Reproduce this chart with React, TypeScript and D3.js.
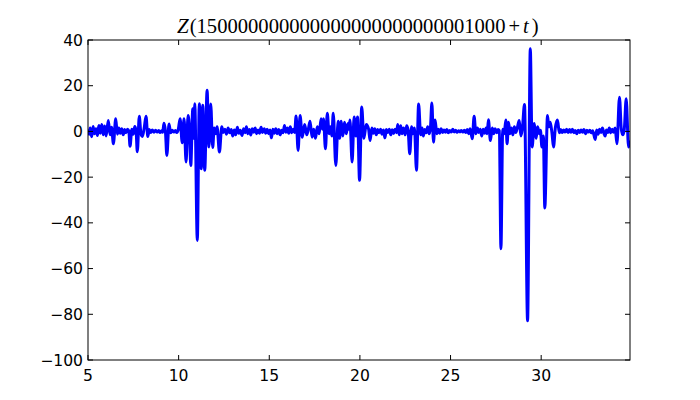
import React from 'react';
import * as d3 from 'd3';

// chart values
const titleNumber = '150000000000000000000000001000';
const xTicks = [5, 10, 15, 20, 25, 30];
const yTicks = [-100, -80, -60, -40, -20, 0, 20, 40];
const xDomain = [5, 34.9];
const yDomain = [-100, 40];

// [t, Z(t)] at the local extremes of the curve
const zSeries: [number, number][] = [
  [5.0, 0.8], [5.06, -1.2], [5.12, 1.5], [5.2, -2.3], [5.28, 2.2], [5.36, -1.0], [5.44, 1.2], [5.52, -1.8],
  [5.6, 2.6], [5.68, -0.8], [5.76, 3.0], [5.84, -1.5], [5.92, 2.4], [6.0, -2.0], [6.12, 4.8], [6.22, -1.5],
  [6.3, 1.8], [6.4, -5.4], [6.53, 5.5], [6.62, -1.2], [6.7, 1.5], [6.78, -0.8], [6.86, 1.2], [6.94, -1.5],
  [7.02, 0.8], [7.1, -0.6], [7.18, 1.0], [7.25, 0.3], [7.32, -6.5], [7.42, 1.0], [7.5, -1.2], [7.58, 2.2],
  [7.65, 0.5], [7.72, -8.9], [7.83, 6.6], [7.92, -1.0], [8.0, -2.2], [8.1, 1.5], [8.2, 6.6], [8.3, -2.2],
  [8.38, 0.8], [8.46, -0.5], [8.55, 0.6], [8.64, -0.4], [8.73, 0.5], [8.82, -0.3], [8.9, 0.4], [8.98, -0.5],
  [9.06, 0.3], [9.12, -0.4], [9.19, 3.6], [9.27, 0.2], [9.35, -10.5], [9.47, 3.3], [9.56, -0.6], [9.65, 0.5],
  [9.74, -0.3], [9.82, 0.4], [9.9, -0.5], [9.98, 0.8], [10.08, 5.5], [10.2, -5.0], [10.3, 5.5], [10.41, -13.4],
  [10.52, 7.0], [10.6, 0.5], [10.67, -14.9], [10.78, 9.9], [10.84, -3.0], [10.89, 12.1], [11.03, -47.7],
  [11.14, 12.1], [11.25, -16.3], [11.33, 11.4], [11.44, -17.0], [11.57, 18.0], [11.67, -6.8], [11.77, 12.0],
  [11.88, -7.0], [11.96, 1.5], [12.04, -1.0], [12.12, 2.0], [12.25, -9.0], [12.38, 2.0], [12.46, -0.5],
  [12.55, 1.0], [12.64, -1.2], [12.73, 1.5], [12.82, -0.6], [12.9, 0.8], [12.98, -2.0], [13.07, 0.6],
  [13.15, -1.5], [13.24, 1.8], [13.32, -0.8], [13.4, 0.5], [13.5, -1.8], [13.58, 1.2], [13.66, -0.6],
  [13.74, 2.0], [13.82, -1.0], [13.9, 0.8], [13.98, -1.6], [14.06, 1.2], [14.14, -0.4], [14.22, 1.5],
  [14.3, -1.0], [14.38, 0.6], [14.46, -0.8], [14.55, 1.8], [14.63, -0.5], [14.72, 1.2], [14.8, -0.8],
  [14.88, 0.9], [14.96, -1.0], [15.04, 0.6], [15.12, -2.8], [15.2, 1.0], [15.28, -0.8], [15.36, 1.2],
  [15.44, -1.0], [15.52, 0.8], [15.6, -1.5], [15.68, 0.5], [15.76, -0.6], [15.84, 2.6], [15.92, -0.4],
  [16.0, 1.5], [16.08, -0.8], [16.16, 2.0], [16.24, -0.6], [16.32, 1.0], [16.4, -0.5], [16.48, 6.7],
  [16.59, -8.3], [16.7, 7.0], [16.82, -2.5], [16.95, 3.0], [17.07, -1.5], [17.16, 1.2], [17.25, 4.5],
  [17.36, -2.5], [17.45, 1.0], [17.55, -3.0], [17.65, 2.0], [17.75, -1.0], [17.86, 5.5], [17.93, 1.0],
  [17.99, 5.5], [18.1, -7.6], [18.2, 8.0], [18.3, -1.0], [18.38, 2.0], [18.45, -2.0], [18.53, 8.0],
  [18.67, -14.9], [18.8, 4.5], [18.88, -3.0], [18.97, 4.5], [19.06, -2.0], [19.15, 4.0], [19.25, -1.0],
  [19.34, 3.5], [19.4, 1.0], [19.45, 5.0], [19.57, -13.4], [19.68, 6.3], [19.78, -2.0], [19.87, 6.3],
  [19.98, -21.4], [20.1, 10.7], [20.22, -3.0], [20.35, 3.0], [20.48, 1.0], [20.56, -4.0], [20.66, 1.5],
  [20.74, -0.8], [20.82, 1.2], [20.9, -1.5], [20.98, 0.8], [21.06, -0.6], [21.14, 1.0], [21.22, -1.2],
  [21.3, 0.6], [21.38, -2.8], [21.46, 0.8], [21.54, -0.5], [21.62, 1.0], [21.7, -1.5], [21.78, 0.7],
  [21.86, -0.9], [21.94, 1.0], [22.02, -0.6], [22.09, 3.0], [22.17, -1.5], [22.25, 2.5], [22.33, -1.0],
  [22.41, 1.5], [22.5, -1.5], [22.58, 2.5], [22.66, 0.5], [22.75, -9.8], [22.85, 2.0], [22.93, -1.0],
  [23.01, 1.5], [23.12, -17.0], [23.24, 12.0], [23.35, -1.5], [23.43, 1.5], [23.5, -2.0], [23.58, 0.8],
  [23.66, -0.6], [23.74, 2.0], [23.82, -1.0], [23.89, 1.5], [23.97, 12.4], [24.06, -4.7], [24.15, 5.0],
  [24.24, -1.0], [24.32, 1.0], [24.4, -0.8], [24.48, 1.2], [24.56, -0.5], [24.64, 0.6], [24.72, -0.4],
  [24.8, 0.8], [24.88, -0.6], [24.96, 0.4], [25.04, -0.3], [25.12, 1.0], [25.2, -0.2], [25.28, 0.5],
  [25.36, -0.4], [25.44, 0.3], [25.52, -0.2], [25.6, 0.4], [25.68, -0.3], [25.76, 0.5], [25.84, -0.5],
  [25.92, 0.8], [26.0, -1.0], [26.08, 1.2], [26.2, -3.2], [26.3, 6.6], [26.4, -1.0], [26.48, 1.5],
  [26.56, -0.5], [26.64, 1.0], [26.72, -2.0], [26.8, 1.0], [26.88, -0.8], [26.96, 1.5], [27.02, -1.0],
  [27.09, 5.1], [27.2, -4.0], [27.3, 1.5], [27.38, -1.0], [27.46, 1.2], [27.54, -0.6], [27.62, 0.8],
  [27.69, 0.3], [27.78, -51.3], [27.88, 1.0], [27.96, -1.0], [28.05, 5.0], [28.12, -5.4], [28.2, 4.0],
  [28.28, -1.0], [28.36, 1.5], [28.44, -1.5], [28.52, 2.0], [28.6, -0.5], [28.68, 1.5], [28.79, 4.8],
  [28.88, -2.0], [28.96, 1.0], [29.08, 11.8], [29.25, -82.8], [29.4, 36.2], [29.5, -6.8], [29.62, 3.5],
  [29.72, -3.0], [29.8, 2.0], [29.9, -1.0], [29.96, 0.5], [30.04, -6.8], [30.12, -2.0], [30.2, -33.5],
  [30.35, 7.0], [30.42, 2.0], [30.5, 4.0], [30.6, -1.0], [30.68, -6.8], [30.78, 1.5], [30.9, 5.0],
  [31.0, -0.6], [31.08, 0.8], [31.16, -0.5], [31.24, 0.6], [31.32, -0.3], [31.4, 1.0], [31.48, -0.5],
  [31.56, 0.8], [31.64, -0.4], [31.72, 1.0], [31.8, -0.6], [31.88, 0.4], [31.96, -1.0], [32.04, 0.5],
  [32.12, -0.5], [32.2, 0.6], [32.28, -0.4], [32.36, 0.8], [32.44, -1.0], [32.52, 0.5], [32.6, -0.3],
  [32.68, 0.5], [32.76, -0.6], [32.84, 0.3], [32.98, -3.5], [33.06, 0.6], [33.14, -1.2], [33.22, 1.0],
  [33.3, -0.5], [33.38, 1.5], [33.46, -0.8], [33.53, -2.0], [33.6, 0.6], [33.68, -0.5], [33.76, 1.5],
  [33.84, -0.6], [33.92, 1.0], [34.0, -0.4], [34.08, 1.5], [34.18, -5.4], [34.32, 15.0], [34.42, 1.0],
  [34.5, -1.5], [34.58, 0.5], [34.69, 14.3], [34.82, -6.8], [34.9, -4.0],
];

const W = 700;
const H = 400;
const margin = { top: 40, right: 70, bottom: 40, left: 88 };

const fmt = (v: number) => (v < 0 ? '\u2212' + Math.abs(v) : String(v));

const App = () => {
  const x = d3.scaleLinear().domain(xDomain).range([margin.left, W - margin.right]);
  const y = d3.scaleLinear().domain(yDomain).range([H - margin.bottom, margin.top]);

  const line = d3.line<[number, number]>()
    .x(d => x(d[0]))
    .y(d => y(d[1]))
    .curve(d3.curveMonotoneX);

  const x0 = margin.left, x1 = W - margin.right;
  const y0 = margin.top, y1 = H - margin.bottom;
  const tick = 5;

  return (
    <svg width={W} height={H} style={{ position: 'absolute', left: 0, top: 0, background: '#fff' }}
      fontFamily="'DejaVu Sans', sans-serif">
      <rect x={0} y={0} width={W} height={H} fill="#fff" />
      <defs>
        <clipPath id="plot">
          <rect x={x0} y={y0} width={x1 - x0} height={y1 - y0} />
        </clipPath>
      </defs>

      {/* the curve */}
      <path d={line(zSeries) || ''} fill="none" stroke="#0000ff" strokeWidth={3}
        strokeLinejoin="round" clipPath="url(#plot)" />

      {/* frame */}
      <rect x={x0} y={y0} width={x1 - x0} height={y1 - y0} fill="none" stroke="#000" strokeWidth={1} />

      {/* x ticks, inside on top and bottom */}
      {xTicks.map(v => (
        <g key={'x' + v}>
          <line x1={x(v)} x2={x(v)} y1={y1} y2={y1 - tick} stroke="#000" />
          <line x1={x(v)} x2={x(v)} y1={y0} y2={y0 + tick} stroke="#000" />
          <text x={x(v)} y={y1 + 21} fontSize={15.6} textAnchor="middle">{fmt(v)}</text>
        </g>
      ))}

      {/* y ticks, inside on left and right */}
      {yTicks.map(v => (
        <g key={'y' + v}>
          <line x1={x0} x2={x0 + tick} y1={y(v)} y2={y(v)} stroke="#000" />
          <line x1={x1} x2={x1 - tick} y1={y(v)} y2={y(v)} stroke="#000" />
          <text x={x0 - 5} y={y(v) + 5.5} fontSize={15.6} textAnchor="end">{fmt(v)}</text>
        </g>
      ))}

      {/* title, laid out like mathtext */}
      <text x={177} y={33} fontSize={20.6} fontFamily="'Liberation Serif', serif">
        <tspan fontStyle="italic" fontSize={21}>Z</tspan>
        <tspan dx={1}>({titleNumber}</tspan>
        <tspan dx={3}>+</tspan>
        <tspan dx={3} fontStyle="italic">t</tspan>
        <tspan dx={3}>)</tspan>
      </text>
    </svg>
  );
};

export default App;
